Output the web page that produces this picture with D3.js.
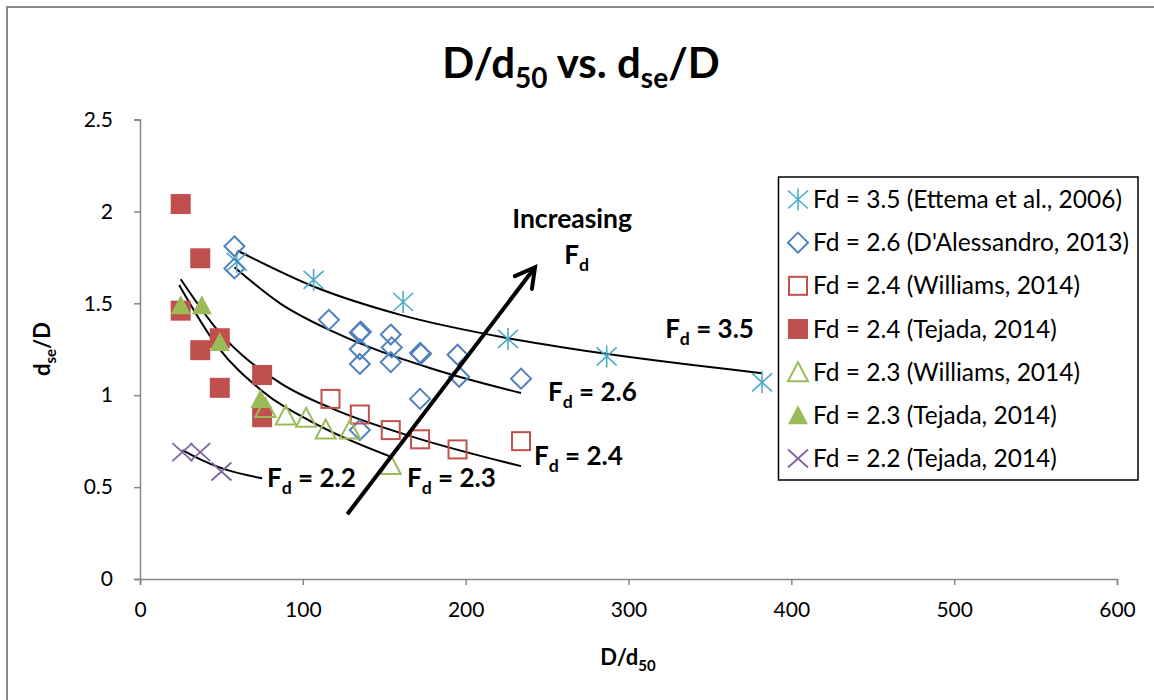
<!DOCTYPE html>
<html><head><meta charset="utf-8">
<script src="https://cdn.jsdelivr.net/npm/d3@7"></script>
<style>body{margin:0;background:#fff} text{font-family:Lato,'Open Sans',sans-serif}</style>
</head><body><svg id="c" width="1154" height="700"></svg>
<script>
// ---- data ----
const xTicks = [0, 100, 200, 300, 400, 500, 600];
const yTicks = [0, 0.5, 1, 1.5, 2, 2.5];
const yTickLabels = ["0", "0.5", "1", "1.5", "2", "2.5"];

const ettemaX = [59.4, 106.6, 161.6, 226, 286.6, 382];
const ettemaY = [1.725, 1.627, 1.507, 1.306, 1.211, 1.07];

const dalessX = [58, 58, 116, 135, 135.6, 135, 135, 154, 154.6, 154, 172, 172.6, 172, 135, 195, 196, 234];
const dalessY = [1.81, 1.69, 1.41, 1.34, 1.345, 1.25, 1.17, 1.33, 1.26, 1.18, 1.23, 1.225, 0.98, 0.81, 1.22, 1.10, 1.09];

const will24X = [117, 135, 154, 172, 195, 234];
const will24Y = [0.98, 0.895, 0.81, 0.76, 0.705, 0.75];

const tej24X = [25, 37, 25, 49, 37, 49, 75, 75];
const tej24Y = [2.04, 1.745, 1.46, 1.31, 1.245, 1.04, 1.11, 0.88];

const will23X = [77, 89.5, 102, 114, 129, 154];
const will23Y = [0.93, 0.89, 0.877, 0.813, 0.813, 0.62];

const tej23X = [25, 38, 49, 74];
const tej23Y = [1.49, 1.49, 1.29, 0.98];

const tej22X = [26, 37, 50];
const tej22Y = [0.69, 0.69, 0.585];

const legendLabels = [
  "Fd = 3.5 (Ettema et al., 2006)",
  "Fd = 2.6 (D'Alessandro, 2013)",
  "Fd = 2.4 (Williams, 2014)",
  "Fd = 2.4 (Tejada, 2014)",
  "Fd = 2.3 (Williams, 2014)",
  "Fd = 2.3 (Tejada, 2014)",
  "Fd = 2.2 (Tejada, 2014)"
];

// trend curves
const trend35X = [60, 107, 160, 226, 283, 382];
const trend35Y = [1.786, 1.59, 1.437, 1.31, 1.229, 1.12];
const trend26X = [58, 86, 120, 178, 234];
const trend26Y = [1.696, 1.50, 1.34, 1.148, 1.012];
const trend24X = [25, 48, 86, 120, 168, 234];
const trend24Y = [1.631, 1.35, 1.067, 0.92, 0.772, 0.614];
const trend23X = [24, 48, 74, 110, 154];
const trend23Y = [1.60, 1.26, 1.03, 0.834, 0.665];
const trend22X = [26, 37, 50, 75];
const trend22Y = [0.701, 0.651, 0.603, 0.548];
const trendLabels = ["3.5", "2.6", "2.4", "2.3", "2.2"];
const trendLabelX = [322.5, 250.6, 242, 164, 78];
const trendLabelY = [1.311, 0.968, 0.62, 0.50, 0.502];

const arrowX = [127.3, 242.6];
const arrowY = [0.352, 1.696];

// ---- drawing ----
const svg = d3.select("#c");
svg.append("rect").attr("width", 1154).attr("height", 700).attr("fill", "#fff");
svg.append("path").attr("d", "M7,700 L7,7 L1154,7").attr("fill", "none")
  .attr("stroke", "#888").attr("stroke-width", 2);

const x = d3.scaleLinear().domain([0, 600]).range([140, 1117]);
const y = d3.scaleLinear().domain([0, 2.5]).range([579, 119.5]);
const axisColor = "#868686";

// axes
const gx = svg.append("g").attr("transform", `translate(0,${y(0)})`)
  .call(d3.axisBottom(x).tickValues(xTicks).tickSize(6).tickPadding(17).tickFormat(d3.format("d")));
const gy = svg.append("g").attr("transform", `translate(${x(0)},0)`)
  .call(d3.axisLeft(y).tickValues(yTicks).tickSize(6).tickPadding(21).tickFormat((d, i) => yTickLabels[i]));
[gx, gy].forEach(g => {
  g.select(".domain").attr("stroke", axisColor).attr("stroke-width", 1.5);
  g.selectAll(".tick line").attr("stroke", axisColor).attr("stroke-width", 1.5);
  g.selectAll(".tick text").attr("fill", "#000").style("font-size", "21px").style("font-family", "Lato");
});

// trend curves
const line = d3.line().x(d => x(d[0])).y(d => y(d[1])).curve(d3.curveMonotoneX);
const trends = [[trend35X, trend35Y], [trend26X, trend26Y], [trend24X, trend24Y], [trend23X, trend23Y], [trend22X, trend22Y]];
trends.forEach(([tx, ty]) => {
  svg.append("path").attr("d", line(tx.map((v, i) => [v, ty[i]])))
    .attr("fill", "none").attr("stroke", "#000").attr("stroke-width", 2);
});

// marker shapes
const C = { teal: "#4BACC6", blue: "#4F81BD", red: "#C0504D", green: "#9BBB59", purple: "#8064A2" };
function drawMarker(g, type, cx, cy) {
  const p = d3.path();
  if (type === "star") {
    p.moveTo(cx - 10, cy - 9); p.lineTo(cx + 10, cy + 9);
    p.moveTo(cx - 10, cy + 9); p.lineTo(cx + 10, cy - 9);
    p.moveTo(cx, cy - 11); p.lineTo(cx, cy + 11);
    g.append("path").attr("d", p.toString()).attr("stroke", C.teal).attr("stroke-width", 1.6).attr("fill", "none");
  } else if (type === "diamond") {
    p.moveTo(cx, cy - 10); p.lineTo(cx + 10, cy); p.lineTo(cx, cy + 10); p.lineTo(cx - 10, cy); p.closePath();
    g.append("path").attr("d", p.toString()).attr("stroke", C.blue).attr("stroke-width", 2).attr("fill", "none");
  } else if (type === "squareOpen") {
    g.append("rect").attr("x", cx - 9).attr("y", cy - 9).attr("width", 18).attr("height", 18)
      .attr("stroke", C.red).attr("stroke-width", 2).attr("fill", "none");
  } else if (type === "squareFill") {
    g.append("rect").attr("x", cx - 10).attr("y", cy - 10).attr("width", 20).attr("height", 20)
      .attr("fill", C.red);
  } else if (type === "triOpen" || type === "triFill") {
    p.moveTo(cx, cy - 10); p.lineTo(cx + 10, cy + 9); p.lineTo(cx - 10, cy + 9); p.closePath();
    const el = g.append("path").attr("d", p.toString());
    if (type === "triOpen") el.attr("stroke", C.green).attr("stroke-width", 2).attr("fill", "none");
    else el.attr("fill", C.green);
  } else if (type === "cross") {
    p.moveTo(cx - 10, cy - 9); p.lineTo(cx + 10, cy + 9);
    p.moveTo(cx - 10, cy + 9); p.lineTo(cx + 10, cy - 9);
    g.append("path").attr("d", p.toString()).attr("stroke", C.purple).attr("stroke-width", 1.8).attr("fill", "none");
  }
}

const series = [
  ["star", ettemaX, ettemaY],
  ["diamond", dalessX, dalessY],
  ["squareOpen", will24X, will24Y],
  ["squareFill", tej24X, tej24Y],
  ["triOpen", will23X, will23Y],
  ["triFill", tej23X, tej23Y],
  ["cross", tej22X, tej22Y]
];
const gm = svg.append("g");
series.forEach(([type, sx, sy]) => {
  sx.forEach((v, i) => drawMarker(gm, type, x(v), y(sy[i])));
});

// arrow
const ax0 = x(arrowX[0]), ay0 = y(arrowY[0]), ax1 = x(arrowX[1]), ay1 = y(arrowY[1]);
svg.append("line").attr("x1", ax0).attr("y1", ay0).attr("x2", ax1).attr("y2", ay1)
  .attr("stroke", "#000").attr("stroke-width", 4);
const ang = Math.atan2(ay1 - ay0, ax1 - ax0);
const hl = 22, ha = Math.PI / 6.2;
const head = d3.path();
head.moveTo(ax1 - hl * Math.cos(ang - ha), ay1 - hl * Math.sin(ang - ha));
head.lineTo(ax1, ay1);
head.lineTo(ax1 - hl * Math.cos(ang + ha), ay1 - hl * Math.sin(ang + ha));
svg.append("path").attr("d", head.toString()).attr("fill", "none").attr("stroke", "#000")
  .attr("stroke-width", 4).attr("stroke-linejoin", "miter").attr("stroke-linecap", "round");

// Fd labels
function fdLabel(px, py, rest, size, anchor) {
  const t = svg.append("text").attr("x", px).attr("y", py).attr("font-weight", "bold")
    .style("font-size", size + "px").attr("text-anchor", anchor || "start").attr("fill", "#000");
  t.append("tspan").text("F");
  t.append("tspan").attr("dy", size * 0.28).style("font-size", (size * 0.68) + "px").text("d");
  if (rest) t.append("tspan").attr("dy", -size * 0.28).text(rest);
  return t;
}
trendLabels.forEach((lab, i) => fdLabel(x(trendLabelX[i]), y(trendLabelY[i]), " = " + lab, 26));

svg.append("text").attr("x", x(265.4)).attr("y", y(1.91)).attr("text-anchor", "middle")
  .attr("font-weight", "bold").style("font-size", "26.5px").text("Increasing");
fdLabel(x(260.5), y(1.716), "", 26);

// title
const title = svg.append("text").attr("x", 581).attr("y", 78).attr("text-anchor", "middle")
  .attr("font-weight", "bold").style("font-size", "42px");
title.append("tspan").text("D/d");
title.append("tspan").attr("dy", 10).style("font-size", "28px").text("50");
title.append("tspan").attr("dy", -10).text(" vs. d");
title.append("tspan").attr("dy", 10).style("font-size", "28px").text("se");
title.append("tspan").attr("dy", -10).text("/D");

// axis titles
const xt = svg.append("text").attr("x", 628).attr("y", 665).attr("text-anchor", "middle")
  .attr("font-weight", "bold").style("font-size", "22px");
xt.append("tspan").text("D/d");
xt.append("tspan").attr("dy", 6).style("font-size", "15px").text("50");

const yt = svg.append("text").attr("transform", "translate(50,349) rotate(-90)").attr("text-anchor", "middle")
  .attr("font-weight", "bold").style("font-size", "22px");
yt.append("tspan").text("d");
yt.append("tspan").attr("dy", 6).style("font-size", "15px").text("se");
yt.append("tspan").attr("dy", -6).text("/D");

// legend
const lg = svg.append("g");
lg.append("rect").attr("x", 778.5).attr("y", 177).attr("width", 359.5).attr("height", 303)
  .attr("fill", "#fff").attr("stroke", "#000").attr("stroke-width", 1.5);
const rowY = d3.scaleLinear().domain([0, 6]).range([199.5, 458.5]);
series.forEach(([type], i) => {
  const cy = rowY(i);
  const g = lg.append("g");
  drawMarker(g, type, 798, cy);
  g.append("text").attr("x", 813).attr("y", cy + 8.5).style("font-size", "24.5px").attr("fill", "#000")
    .text(legendLabels[i]);
});
</script></body></html>
